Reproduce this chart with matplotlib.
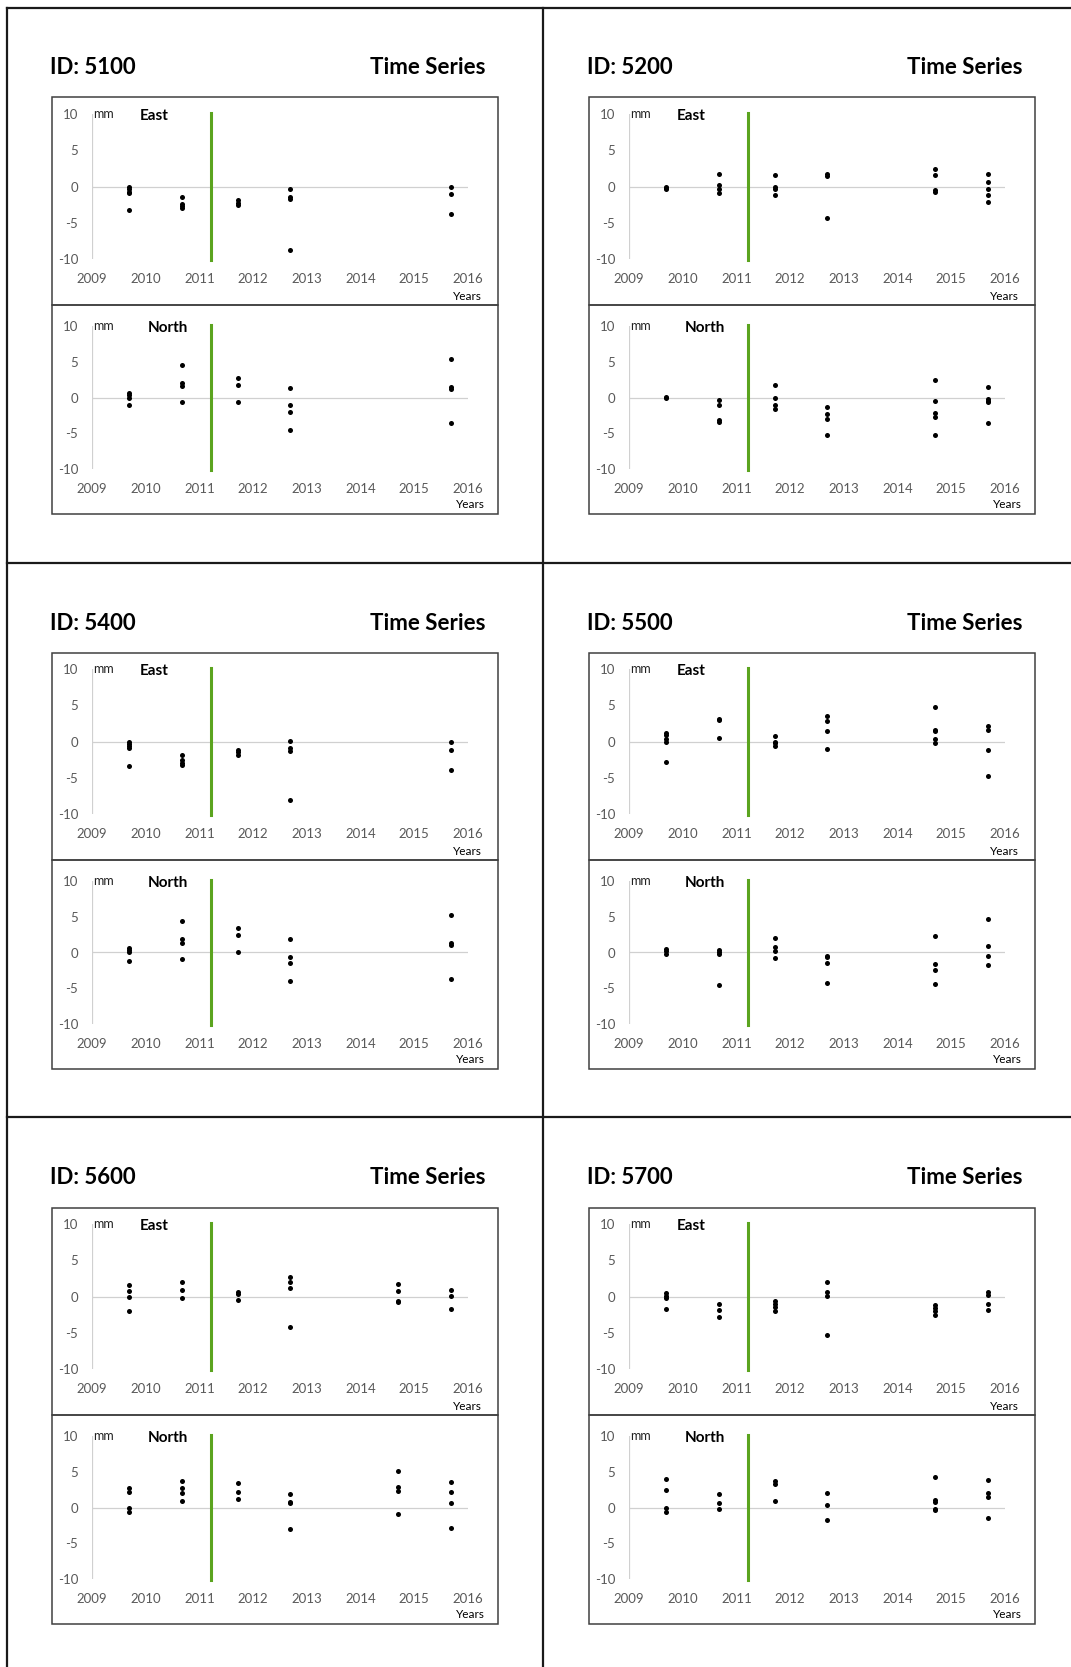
import matplotlib.pyplot as plt
from matplotlib.patches import Rectangle
from matplotlib.lines import Line2D

plt.rcParams['font.family'] = ['Lato', 'DejaVu Sans']
plt.rcParams['axes.unicode_minus'] = False

W, H = 1071, 1667

# survey epochs (decimal years)
epochs_a = [2009.68, 2010.67, 2011.71, 2012.69, 2015.69]
epochs_b = [2009.68, 2010.67, 2011.71, 2012.69, 2014.69, 2015.69]
break_year = 2011.21

station_ids = ["5100", "5200", "5400", "5500", "5600", "5700"]

# displacement values (mm), one list per epoch
east_5100 = [[-0.1, -0.4, -0.7, -0.9, -3.3], [-1.5, -2.4, -2.7, -3.0], [-1.9, -2.3, -2.6],
             [-0.4, -1.4, -1.7, -8.7], [0.0, -1.0, -3.8]]
north_5100 = [[0.6, 0.3, 0.0, -1.1], [4.6, 2.1, 1.6, -0.7], [2.8, 1.8, -0.7],
              [1.35, -1.1, -2.0, -4.5], [5.4, 1.5, 1.15, -3.6]]
east_5200 = [[0.0, -0.2, -0.4], [1.8, 0.2, -0.4, -0.9], [1.6, 0.0, -0.3, -1.1],
             [1.7, 1.4, -4.4], [2.5, 1.6, -0.5, -0.8], [1.7, 0.7, -0.3, -1.2, -2.1]]
north_5200 = [[0.1, 0.0], [-0.3, -1.0, -3.2, -3.5], [1.8, 0.0, -1.0, -1.6],
              [-1.35, -2.35, -2.95, -5.2], [2.45, -0.55, -2.2, -2.75, -5.3],
              [1.5, -0.15, -0.45, -0.7, -3.55]]
east_5400 = [[0.0, -0.3, -0.6, -0.9, -3.4], [-1.8, -2.6, -2.9, -3.2], [-1.15, -1.5, -1.85],
             [0.1, -0.95, -1.25, -8.1], [-0.1, -1.15, -3.9]]
north_5400 = [[0.65, 0.3, 0.0, -1.15], [4.35, 1.9, 1.3, -0.95], [3.5, 2.5, 0.1],
              [1.9, -0.6, -1.5, -4.0], [5.3, 1.4, 1.0, -3.75]]
east_5500 = [[1.2, 0.85, 0.3, -0.1, -2.8], [3.15, 2.95, 0.5], [0.8, 0.0, -0.25, -0.6],
             [3.6, 2.9, 1.45, -1.0], [4.75, 1.6, 1.4, 0.35, -0.15], [2.2, 1.65, -1.1, -4.7]]
north_5500 = [[0.45, 0.15, -0.2], [0.3, 0.0, -0.25, -4.55], [2.05, 0.75, 0.25, -0.75],
              [-0.5, -0.7, -1.45, -4.25], [2.35, -1.65, -2.5, -4.4], [4.65, 0.85, -0.45, -1.8]]
east_5600 = [[1.6, 0.75, 0.0, -2.0], [2.05, 0.95, -0.2], [0.6, 0.35, -0.45],
             [2.7, 2.0, 1.2, -4.2], [1.7, 0.75, -0.55, -0.8], [0.95, 0.1, -1.7]]
north_5600 = [[2.8, 2.2, 0.0, -0.7], [3.65, 2.75, 2.05, 0.9], [3.4, 2.15, 1.15],
              [1.95, 0.8, 0.6, -2.95], [5.15, 2.85, 2.35, -0.9], [3.6, 2.15, 0.6, -2.85]]
east_5700 = [[0.45, 0.1, -0.15, -1.7], [-1.05, -1.9, -2.85], [-0.65, -1.05, -1.4, -2.0],
             [2.0, 0.7, 0.15, -5.35], [-1.15, -1.55, -2.0, -2.5], [0.6, 0.25, -1.05, -1.9]]
north_5700 = [[4.05, 2.45, 0.0, -0.7], [1.95, 0.65, -0.15], [3.65, 3.25, 0.95],
              [2.1, 0.4, -1.75], [4.25, 1.1, 0.75, -0.2, -0.4], [3.9, 2.1, 1.5, -1.45]]

east_all = [east_5100, east_5200, east_5400, east_5500, east_5600, east_5700]
north_all = [north_5100, north_5200, north_5400, north_5500, north_5600, north_5700]
epochs_all = [epochs_a, epochs_b, epochs_a, epochs_b, epochs_b, epochs_b]

year_ticks = list(range(2009, 2017))
mm_ticks = [-10, -5, 0, 5, 10]

green = "#5ba41f"
tick_gray = "#595959"


def fig_rect(x0, y0, x1, y1):
    # pixel box (top-left origin) -> figure fraction
    return [x0 / W, 1 - y1 / H, (x1 - x0) / W, (y1 - y0) / H]


def draw_series(ax, epochs, values, label, years_pos):
    for t, vals in zip(epochs, values):
        ax.scatter([t] * len(vals), vals, s=13, color="black", zorder=4, lw=0)
    ax.set_xlim(2009, 2016)
    ax.set_ylim(-10, 10)
    ax.axhline(0, color="#d0d0d0", lw=0.9, zorder=1)
    ax.axvline(2009, color="#d0d0d0", lw=0.9, zorder=1)
    ax.plot([break_year, break_year], [-10.2, 10.2], color=green, lw=2.2, zorder=3, clip_on=False)
    for s in ax.spines.values():
        s.set_visible(False)
    ax.set_xticks(year_ticks)
    ax.set_yticks(mm_ticks)
    ax.tick_params(length=0, labelsize=9.5, labelcolor=tick_gray)
    ax.tick_params(axis="y", pad=10)
    ax.tick_params(axis="x", pad=10)
    ax.patch.set_alpha(0)
    ax.text(2009.03, 10, "mm", fontsize=9, color="#222222", va="center", ha="left")
    ax.text(2009.0 + (0.89 if label == "East" else 1.04), 9.7, label, fontsize=11,
            fontweight="bold", va="center", ha="left")
    ax.text(years_pos[0], years_pos[1], "Years", fontsize=8.5, ha="right", va="center",
            transform=ax.transAxes)


fig = plt.figure(figsize=(W / 100, H / 100), dpi=100)

col_dx = [0, 537]
row_dy = [0, 555, 1110]

for i, sid in enumerate(station_ids):
    dx = col_dx[i % 2]
    dy = row_dy[i // 2]

    fig.text((50 + dx) / W, 1 - (68 + dy) / H, "ID: " + sid, fontsize=16,
             fontweight="bold", ha="left", va="center")
    fig.text((485.5 + dx) / W, 1 - (68 + dy) / H, "Time Series", fontsize=16,
             fontweight="bold", ha="right", va="center")

    # chart frames
    for y0, y1 in ((97.5, 304.6), (304.6, 514.3)):
        r = fig_rect(51.6 + dx, y0 + dy, 497.6 + dx, y1 + dy)
        fig.add_artist(Rectangle((r[0], r[1]), r[2], r[3], transform=fig.transFigure,
                                 fill=False, edgecolor="#404040", lw=1.1))

    ax_e = fig.add_axes(fig_rect(92 + dx, 114.3 + dy, 468 + dx, 258.9 + dy))
    draw_series(ax_e, epochs_all[i], east_all[i], "East", (1.037, -0.26))
    ax_n = fig.add_axes(fig_rect(92 + dx, 326.1 + dy, 468 + dx, 468.9 + dy))
    draw_series(ax_n, epochs_all[i], north_all[i], "North", (1.045, -0.25))

# panel grid lines
def hline(y, x0, x1):
    fig.add_artist(Line2D([x0 / W, x1 / W], [1 - y / H, 1 - y / H], transform=fig.transFigure,
                          color="#1a1a1a", lw=1.6))


def vline(x, y0, y1):
    fig.add_artist(Line2D([x / W, x / W], [1 - y0 / H, 1 - y1 / H], transform=fig.transFigure,
                          color="#1a1a1a", lw=1.6))


for y in (8.3, 563, 1117):
    hline(y, 7.3, W)
vline(7.3, 8.3, H)
vline(543.4, 8.3, H)

fig.savefig("out.png", dpi=100)
